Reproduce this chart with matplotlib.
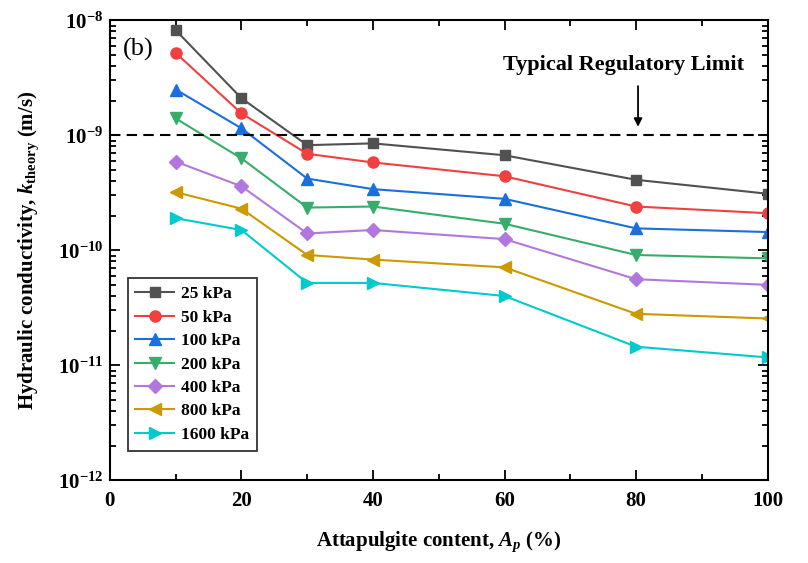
import numpy as np
import matplotlib.pyplot as plt
from matplotlib.ticker import MultipleLocator, LogLocator, NullFormatter

plt.rcParams['font.family'] = 'Liberation Serif'
plt.rcParams['font.weight'] = 'bold'
plt.rcParams['axes.labelweight'] = 'bold'
plt.rcParams['mathtext.fontset'] = 'custom'
plt.rcParams['mathtext.rm'] = 'Liberation Serif:bold'
plt.rcParams['mathtext.it'] = 'Liberation Serif:italic:bold'
plt.rcParams['mathtext.bf'] = 'Liberation Serif:bold'

content = [10, 20, 30, 40, 60, 80, 100]
labels = ['25 kPa', '50 kPa', '100 kPa', '200 kPa', '400 kPa', '800 kPa', '1600 kPa']
k_25 = [8.2e-9, 2.1e-9, 8.2e-10, 8.5e-10, 6.7e-10, 4.1e-10, 3.1e-10]
k_50 = [5.2e-9, 1.55e-9, 6.9e-10, 5.8e-10, 4.4e-10, 2.4e-10, 2.1e-10]
k_100 = [2.5e-9, 1.15e-9, 4.2e-10, 3.4e-10, 2.8e-10, 1.55e-10, 1.44e-10]
k_200 = [1.4e-9, 6.3e-10, 2.35e-10, 2.4e-10, 1.7e-10, 9.1e-11, 8.5e-11]
k_400 = [5.9e-10, 3.6e-10, 1.4e-10, 1.5e-10, 1.25e-10, 5.6e-11, 5.0e-11]
k_800 = [3.2e-10, 2.3e-10, 9.1e-11, 8.3e-11, 7.1e-11, 2.8e-11, 2.55e-11]
k_1600 = [1.9e-10, 1.5e-10, 5.2e-11, 5.2e-11, 4.0e-11, 1.45e-11, 1.17e-11]
limit = 1e-9

series = [k_25, k_50, k_100, k_200, k_400, k_800, k_1600]
colors = ['#515151', '#F14040', '#1A6FDF', '#37AD6B', '#B177DE', '#CC9900', '#00CBCC']
markers = ['s', 'o', '^', 'v', 'D', '<', '>']
msizes = [7.5, 8, 8.5, 8.5, 7, 8.5, 8.5]

fig = plt.figure(figsize=(8.08, 5.63), dpi=100)
ax = fig.add_axes([0.136, 0.147, 0.814, 0.817])

for vals, lab, c, m, ms in zip(series, labels, colors, markers, msizes):
    ax.plot(content, vals, color=c, marker=m, markersize=ms, lw=1.5, label=lab)

ax.axhline(limit, color='black', ls=(0, (5, 3)), lw=1.5)

ax.set_yscale('log')
ax.set_xlim(0, 100)
ax.set_ylim(1e-12, 1e-8)
ax.xaxis.set_major_locator(MultipleLocator(20))
ax.xaxis.set_minor_locator(MultipleLocator(10))
ax.yaxis.set_major_locator(LogLocator(base=10, numticks=10))
ax.yaxis.set_minor_locator(LogLocator(base=10, subs=np.arange(2, 10), numticks=20))
ax.yaxis.set_minor_formatter(NullFormatter())
ax.tick_params(which='both', direction='in', top=True, right=True, width=1.3)
ax.tick_params(which='major', length=7, labelsize=15, pad=8)
ax.tick_params(which='minor', length=4)
ax.tick_params(axis='y', which='major', pad=5)
for s in ax.spines.values():
    s.set_linewidth(1.5)

ax.set_xlabel('Attapulgite content, $\\mathit{A_p}$ (%)', fontsize=15, labelpad=13)
ax.set_ylabel('Hydraulic conductivity, $\\mathit{k}_{\\mathrm{theory}}$ (m/s)', fontsize=15, labelpad=12)

ax.text(2, 5.6e-9, '(b)', fontsize=19, fontweight='normal', va='center')
ax.text(78.1, 4.1e-9, 'Typical Regulatory Limit', fontsize=16, ha='center', va='center')
ax.annotate('', xy=(80.3, 1.12e-9), xytext=(80.3, 2.83e-9),
            arrowprops=dict(arrowstyle='-|>', color='black', lw=1.3, mutation_scale=12))

leg = ax.legend(loc='upper left', bbox_to_anchor=(0.027, 0.439), borderaxespad=0,
                fontsize=12.5, frameon=True, fancybox=False, edgecolor='black',
                handlelength=2.2, borderpad=0.45, labelspacing=0.42, handletextpad=0.4)
leg.get_frame().set_linewidth(1.3)

fig.savefig('out.png', dpi=100)
